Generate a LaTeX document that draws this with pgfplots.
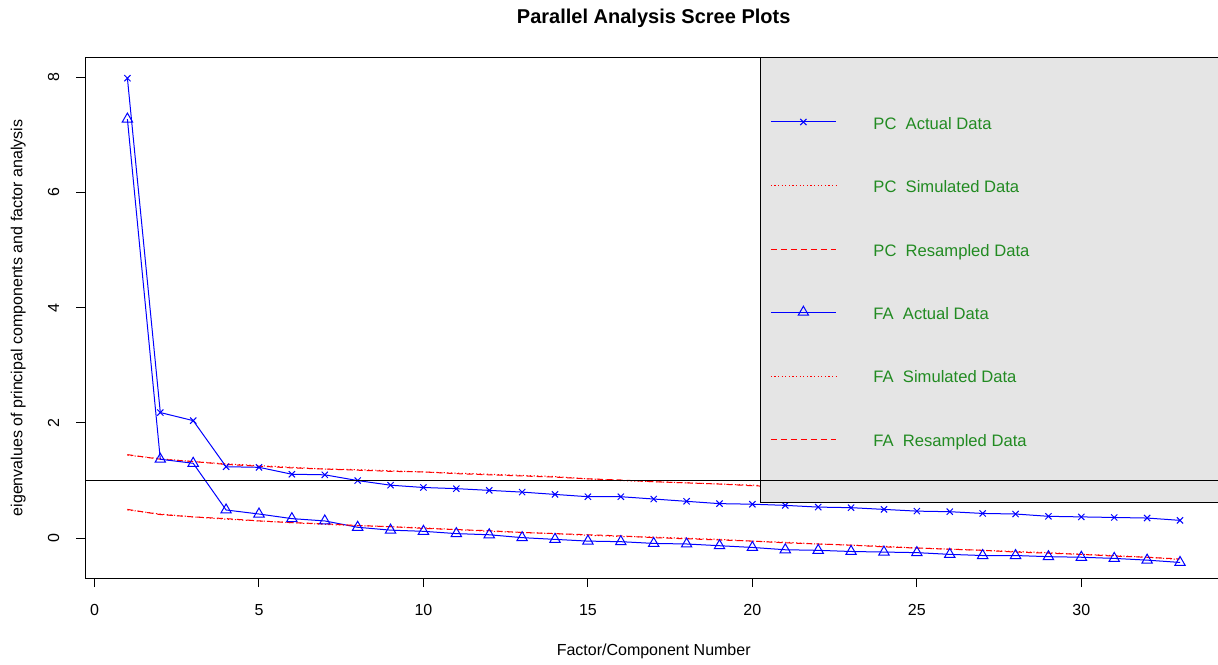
\documentclass[border=0pt]{standalone}
\usepackage{fontspec}
\setmainfont{Liberation Sans}
\newfontfamily\greenfont[Color=228B22]{Liberation Sans}
\usepackage{pgfplots}
\pgfplotsset{compat=1.18}
\definecolor{lgray}{RGB}{229,229,229}
\newcommand{\lgtext}[1]{\makebox[180pt][l]{#1}}
\pgfplotsset{
  myframe/.style={scale only axis, width=568.4pt, height=260pt,
    at={(0,0)}, anchor=south west,
    xmin=-0.28, xmax=34.28, ymin=-0.69, ymax=8.33},
}
\begin{document}
\begin{tikzpicture}
\begin{axis}[
  myframe,
  axis line style={line width=0.5pt},
  xtick={0,5,...,30}, ytick={0,2,4,6,8},
  tick align=outside, tick pos=left, major tick length=4.5pt,
  tick style={black, line width=0.5pt},
  /pgf/number format/assume math mode=true,
  ticklabel style={font=\fontsize{8}{9}\selectfont},
  yticklabel style={rotate=90, anchor=south, yshift=5pt},
  xticklabel style={yshift=-5pt},
  every axis x label/.style={at={(axis description cs:0.5,0)}, yshift=-36.5pt, anchor=center, font=\fontsize{8}{9}\selectfont},
  every axis y label/.style={at={(axis description cs:0,0.5)}, xshift=-33.5pt, rotate=90, anchor=center, font=\fontsize{8}{9}\selectfont},
  every axis title/.style={at={(axis description cs:0.5,1)}, anchor=center, yshift=20pt, font=\bfseries\fontsize{10}{12}\selectfont},
  title={Parallel Analysis Scree Plots},
  xlabel={Factor/Component Number},
  ylabel={eigenvalues of principal components and factor analysis},
  every axis plot/.append style={line width=0.5pt},
]
\addplot[blue, mark=x, mark size=2.2pt, mark options={solid}] coordinates {
(1,7.98) (2,2.18) (3,2.04) (4,1.24) (5,1.23) (6,1.11) (7,1.10) (8,1.00) (9,0.92) (10,0.88)
(11,0.86) (12,0.83) (13,0.80) (14,0.76) (15,0.72) (16,0.72) (17,0.68) (18,0.64) (19,0.60) (20,0.59)
(21,0.57) (22,0.54) (23,0.53) (24,0.50) (25,0.47) (26,0.46) (27,0.43) (28,0.42) (29,0.38) (30,0.37)
(31,0.36) (32,0.35) (33,0.31)};
\addplot[red, dash pattern=on 0.6pt off 1.2pt] coordinates {
(1,1.44) (2,1.38) (3,1.33) (4,1.29) (5,1.26) (6,1.23) (7,1.20) (8,1.19) (9,1.17) (10,1.15)
(11,1.13) (12,1.11) (13,1.09) (14,1.07) (15,1.03) (16,1.00) (17,0.98) (18,0.96) (19,0.94) (20,0.92)
(21,0.90) (22,0.88) (23,0.86) (24,0.84) (25,0.82) (26,0.80) (27,0.78) (28,0.76) (29,0.74) (30,0.72)
(31,0.71) (32,0.69) (33,0.68)};
\addplot[red, dash pattern=on 3pt off 2pt] coordinates {
(1,1.45) (2,1.37) (3,1.33) (4,1.28) (5,1.25) (6,1.22) (7,1.20) (8,1.18) (9,1.16) (10,1.15)
(11,1.12) (12,1.10) (13,1.08) (14,1.06) (15,1.03) (16,1.01) (17,0.98) (18,0.96) (19,0.94) (20,0.91)
(21,0.89) (22,0.87) (23,0.85) (24,0.83) (25,0.81) (26,0.79) (27,0.77) (28,0.75) (29,0.73) (30,0.72)
(31,0.70) (32,0.69) (33,0.67)};
\addplot[blue, mark=triangle, mark size=3pt, mark options={solid}] coordinates {
(1,7.27) (2,1.37) (3,1.30) (4,0.49) (5,0.42) (6,0.34) (7,0.30) (8,0.19) (9,0.14) (10,0.12)
(11,0.08) (12,0.06) (13,0.01) (14,-0.02) (15,-0.05) (16,-0.06) (17,-0.09) (18,-0.10) (19,-0.13) (20,-0.16)
(21,-0.20) (22,-0.21) (23,-0.23) (24,-0.24) (25,-0.25) (26,-0.28) (27,-0.30) (28,-0.30) (29,-0.32) (30,-0.33)
(31,-0.35) (32,-0.38) (33,-0.42)};
\addplot[red, dash pattern=on 0.6pt off 1.2pt] coordinates {
(1,0.49) (2,0.42) (3,0.37) (4,0.33) (5,0.30) (6,0.27) (7,0.24) (8,0.22) (9,0.20) (10,0.18)
(11,0.15) (12,0.12) (13,0.10) (14,0.08) (15,0.05) (16,0.03) (17,0.02) (18,0.00) (19,-0.02) (20,-0.05)
(21,-0.07) (22,-0.10) (23,-0.12) (24,-0.14) (25,-0.17) (26,-0.19) (27,-0.21) (28,-0.23) (29,-0.25) (30,-0.28)
(31,-0.30) (32,-0.33) (33,-0.37)};
\addplot[red, dash pattern=on 3pt off 2pt] coordinates {
(1,0.50) (2,0.41) (3,0.37) (4,0.34) (5,0.30) (6,0.27) (7,0.25) (8,0.22) (9,0.20) (10,0.17)
(11,0.15) (12,0.13) (13,0.10) (14,0.08) (15,0.06) (16,0.04) (17,0.01) (18,-0.01) (19,-0.03) (20,-0.05)
(21,-0.08) (22,-0.10) (23,-0.12) (24,-0.15) (25,-0.17) (26,-0.19) (27,-0.21) (28,-0.24) (29,-0.26) (30,-0.28)
(31,-0.31) (32,-0.33) (33,-0.36)};
\end{axis}
% legend box and reference line
\begin{axis}[myframe, hide axis]
\addplot[fill=lgray, draw=black, line width=0.5pt, forget plot] coordinates {(20.26,0.625) (20.26,8.33) (34.28,8.33) (34.28,0.625)} -- cycle;
\addplot[black, line width=0.5pt, forget plot] coordinates {(-0.28,1) (34.28,1)};
\end{axis}
% legend samples and legend texts
\begin{axis}[
  myframe, hide axis,
  every axis plot/.append style={line width=0.5pt},
  legend image code/.code={\path (0pt,0pt) (32.5pt,0pt);},
  legend cell align=left,
  legend style={at={(axis description cs:0.5944,1)}, anchor=north west, fill=none, draw=none,
    inner xsep=5pt, inner ysep=28pt, row sep=23.7pt, column sep=18.5pt,
    font=\greenfont\fontsize{8.3}{10}\selectfont,
    nodes={inner sep=0pt, text height=7.5pt, text depth=0.5pt}},
]
\addplot[blue, mark=x, mark size=2.2pt, mark options={solid}, mark repeat=2, mark phase=2, forget plot] coordinates {(20.56,7.22) (21.55,7.22) (22.54,7.22)};
\addplot[red, dash pattern=on 0.6pt off 1.2pt, forget plot] coordinates {(20.56,6.12) (22.54,6.12)};
\addplot[red, dash pattern=on 3pt off 2pt, forget plot] coordinates {(20.56,5.01) (22.54,5.01)};
\addplot[blue, mark=triangle, mark size=3pt, mark options={solid}, mark repeat=2, mark phase=2, forget plot] coordinates {(20.56,3.92) (21.55,3.92) (22.54,3.92)};
\addplot[red, dash pattern=on 0.6pt off 1.2pt, forget plot] coordinates {(20.56,2.81) (22.54,2.81)};
\addplot[red, dash pattern=on 3pt off 2pt, forget plot] coordinates {(20.56,1.71) (22.54,1.71)};
\addlegendimage{draw=none}
\addlegendentry{\lgtext{PC\ \ Actual Data}}
\addlegendimage{draw=none}
\addlegendentry{\lgtext{PC\ \ Simulated Data}}
\addlegendimage{draw=none}
\addlegendentry{\lgtext{PC\ \ Resampled Data}}
\addlegendimage{draw=none}
\addlegendentry{\lgtext{FA\ \ Actual Data}}
\addlegendimage{draw=none}
\addlegendentry{\lgtext{FA\ \ Simulated Data}}
\addlegendimage{draw=none}
\addlegendentry{\lgtext{FA\ \ Resampled Data}}
\end{axis}
\pgfresetboundingbox
\path[use as bounding box] (-42.65pt,-43pt) rectangle (566.35pt,289pt);
\end{tikzpicture}
\end{document}
